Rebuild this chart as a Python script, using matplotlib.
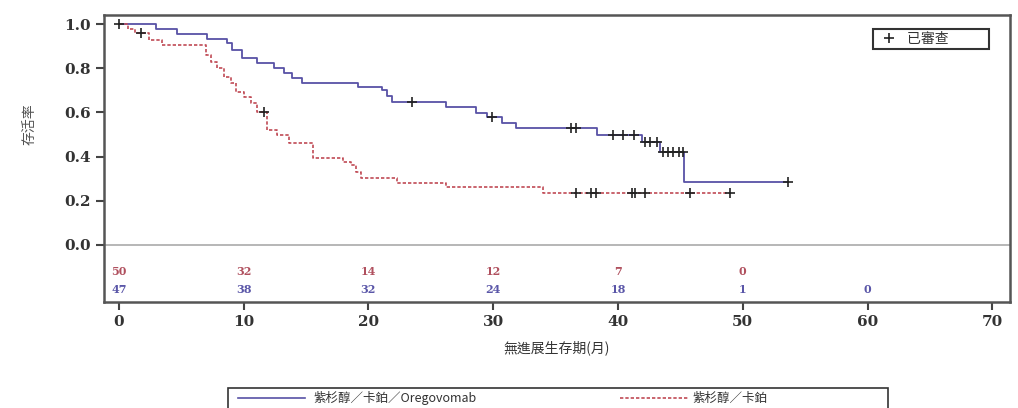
import numpy as np
import matplotlib.pyplot as plt
from matplotlib.lines import Line2D
from matplotlib.patches import Rectangle

plt.rcParams['font.family'] = ['Noto Sans CJK TC', 'DejaVu Sans']

# Kaplan-Meier steps (month, survival after drop)
blue_t = [0, 3.0, 4.7, 7.1, 8.7, 9.1, 9.9, 11.1, 12.4, 13.2, 13.9, 14.7, 19.2, 21.1, 21.5,
          21.9, 26.2, 28.6, 29.5, 30.7, 31.8, 38.3, 41.9, 43.4, 45.3, 53.6]
blue_s = [1.0, 0.979, 0.957, 0.935, 0.913, 0.882, 0.845, 0.822, 0.80, 0.778, 0.758, 0.734,
          0.714, 0.700, 0.675, 0.648, 0.623, 0.599, 0.578, 0.551, 0.528, 0.498, 0.467,
          0.422, 0.286, 0.286]
blue_cens = [0, 23.5, 29.9, 36.2, 36.6, 39.6, 40.4, 41.3, 42.2, 42.6, 43.1, 43.6, 44.0,
             44.4, 44.9, 45.2, 53.6]

red_t = [0, 0.7, 1.3, 2.4, 3.5, 7.0, 7.4, 7.9, 8.4, 9.0, 9.4, 10.0, 10.6, 11.1,
         11.9, 12.7, 13.6, 15.6, 18.0, 18.6, 19.0, 19.4, 22.3, 26.2, 34.0, 49.0]
red_s = [1.0, 0.98, 0.958, 0.928, 0.905, 0.86, 0.83, 0.80, 0.762, 0.732, 0.694, 0.671,
         0.641, 0.603, 0.52, 0.50, 0.46, 0.392, 0.375, 0.36, 0.332, 0.303,
         0.282, 0.261, 0.237, 0.237]
red_cens = [1.8, 11.6, 36.6, 37.8, 38.2, 41.1, 41.4, 42.2, 45.8, 49.0]

risk_t = [0, 10, 20, 30, 40, 50, 60]
risk_red = ['50', '32', '14', '12', '7', '0']
risk_blue = ['47', '38', '32', '24', '18', '1', '0']

blue_c = '#5852a6'
red_c = '#c04a55'


def step_value(t_arr, s_arr, t):
    idx = np.searchsorted(t_arr, t, side='right') - 1
    return np.asarray(s_arr)[idx]


fig = plt.figure(figsize=(10.18, 4.08), dpi=100)
ax = fig.add_axes([0.102, 0.260, 0.890, 0.703])

ax.axhline(0, color='#aaaaaa', lw=1.2, zorder=1)
ax.step(blue_t, blue_s, where='post', color=blue_c, lw=1.3, zorder=3)
ax.step(red_t, red_s, where='post', color=red_c, lw=1.2, ls=(0, (2, 1.2)), zorder=3)

ax.plot(blue_cens, step_value(blue_t, blue_s, blue_cens), ls='none', marker='+',
        ms=7, mew=1.2, color='#222222', zorder=4)
ax.plot(red_cens, step_value(red_t, red_s, red_cens), ls='none', marker='+',
        ms=7, mew=1.2, color='#222222', zorder=4)

for t, n in zip(risk_t, risk_red):
    ax.text(t, -0.122, n, color='#b0505e', fontsize=8, family='DejaVu Serif',
            ha='center', va='center', fontweight='bold')
for t, n in zip(risk_t, risk_blue):
    ax.text(t, -0.204, n, color='#5a56a8', fontsize=8, family='DejaVu Serif',
            ha='center', va='center', fontweight='bold')

ax.set_xlim(-1.2, 71.4)
ax.set_ylim(-0.258, 1.041)
ax.set_xticks(range(0, 71, 10))
ax.set_yticks([0.0, 0.2, 0.4, 0.6, 0.8, 1.0])
ax.set_yticklabels(['0.0', '0.2', '0.4', '0.6', '0.8', '1.0'])
for lab in ax.get_xticklabels() + ax.get_yticklabels():
    lab.set_family('DejaVu Serif')
    lab.set_fontweight('bold')
    lab.set_fontsize(11)
    lab.set_color('#333333')
ax.tick_params(direction='out', length=6, width=1.5, color='#444444')
for sp in ax.spines.values():
    sp.set_color('#555555')
    sp.set_linewidth(1.8)

ax.set_xlabel('無進展生存期(月)', fontsize=10, color='#333333', labelpad=8)
ax.set_ylabel('存活率', fontsize=10, color='#555555')
ax.yaxis.set_label_coords(-0.074, 0.62)

h = Line2D([], [], ls='none', marker='+', ms=7, mew=1.2, color='#222222')
leg = ax.legend([h], ['已審查'], loc='upper right', fontsize=10, fancybox=False,
                edgecolor='#333333', framealpha=1, borderpad=0.2, handletextpad=0.3,
                bbox_to_anchor=(0.985, 0.975))
leg.get_frame().set_linewidth(1.5)
for tx in leg.get_texts():
    tx.set_color('#333333')
    tx.set_text('已審查' + ' ' * 12)

# bottom group legend box
fig.patches.append(Rectangle((228 / 1018, -0.05), 660 / 1018, 0.10, transform=fig.transFigure,
                             fill=False, edgecolor='#333333', lw=1.2))
fig.add_artist(Line2D([238 / 1018, 305 / 1018], [1 - 398 / 408] * 2, color=blue_c, lw=1.2))
fig.text(313 / 1018, 1 - 398 / 408, '紫杉醇／卡鉑／Oregovomab', fontsize=9, va='center',
         color='#333333')
fig.add_artist(Line2D([620 / 1018, 688 / 1018], [1 - 398 / 408] * 2, color=red_c, lw=1.2,
                      ls=(0, (2, 1.2))))
fig.text(692 / 1018, 1 - 398 / 408, '紫杉醇／卡鉑', fontsize=9, va='center', color='#333333')

fig.savefig('out.png', dpi=100)
